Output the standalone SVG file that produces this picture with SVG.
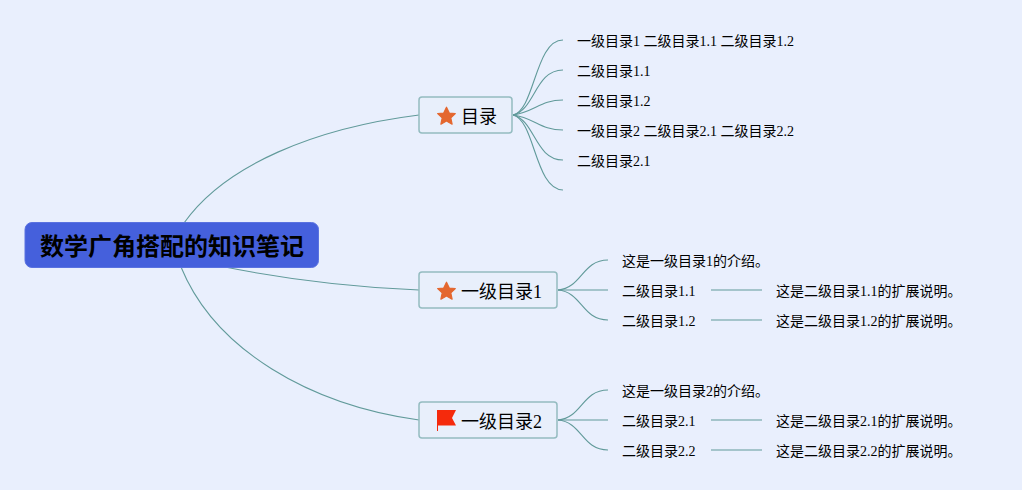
<svg xmlns="http://www.w3.org/2000/svg" width="1022" height="490" viewBox="0 0 1022 490">
<style>
text{font-family:"Liberation Serif","Noto Sans CJK SC",serif;fill:#000}
.l{font-size:14px}
.t{font-size:18px}
.b{fill:#e8effb;stroke:#94bcc0;stroke-width:1.5}
.c path{fill:none;stroke:#619a9a;stroke-width:1.1}
.s{fill:#e4672f;stroke:#e4672f;stroke-width:1.2;stroke-linejoin:round}
</style>
<defs>
<polygon id="star" class="s" points="0,-8.800 2.800,-2.900 8.800,-2.500 4.300,1.900 5.600,8.200 0,5 -5.600,8.200 -4.300,1.900 -8.800,-2.500 -2.800,-2.900"/>
</defs>
<rect width="1022" height="490" fill="#e9effd"/>
<g class="c" id="connectors">
<path d="M184 223C225 165 315 128 419 115"/>
<path d="M225 267C280 278 345 287 419 290"/>
<path d="M181 267C215 350 310 405 419 420"/>
<path d="M513 115C535 110 535 40 563 40"/>
<path d="M513 115C535 110 535 70 563 70"/>
<path d="M513 115C535 112 540 100 563 100"/>
<path d="M513 115C535 118 540 130 563 130"/>
<path d="M513 115C535 120 535 160 563 160"/>
<path d="M513 115C535 120 535 190 563 190"/>
<path d="M558 290C582 288 582 260 608 260"/>
<path d="M558 290H608"/>
<path d="M558 290C582 292 582 320 608 320"/>
<path d="M558 420C582 418 582 390 608 390"/>
<path d="M558 420H608"/>
<path d="M558 420C582 422 582 450 608 450"/>
<path d="M711 290H762"/>
<path d="M711 320H762"/>
<path d="M711 420H762"/>
<path d="M711 450H762"/>
</g>
<g id="root">
<rect x="25" y="222.500" width="293.500" height="45" rx="7" fill="#4560dc" stroke="#5a72e0"/>
<text x="172" y="255" text-anchor="middle" style="font-size:24px;font-weight:700">数学广角搭配的知识笔记</text>
</g>
<g id="n1">
<rect class="b" x="419" y="97" width="93" height="36" rx="3"/>
<use href="#star" x="446.500" y="116"/>
<text class="t" x="461" y="123">目录</text>
</g>
<g id="n2">
<rect class="b" x="419" y="272" width="138" height="36" rx="3"/>
<use href="#star" x="446.500" y="291"/>
<text class="t" x="461" y="298">一级目录1</text>
</g>
<g id="n3">
<rect class="b" x="419" y="402" width="138" height="36" rx="3"/>
<path d="M437 410H456L452 418L456 425.500H438V431H437Z" fill="#f52a0c"/>
<text class="t" x="461" y="428">一级目录2</text>
</g>
<g id="n1-1"><text class="l" x="577" y="46">一级目录1 二级目录1.1 二级目录1.2</text></g>
<g id="n1-2"><text class="l" x="577" y="76">二级目录1.1</text></g>
<g id="n1-3"><text class="l" x="577" y="106">二级目录1.2</text></g>
<g id="n1-4"><text class="l" x="577" y="136">一级目录2 二级目录2.1 二级目录2.2</text></g>
<g id="n1-5"><text class="l" x="577" y="166">二级目录2.1</text></g>
<g id="n2-1"><text class="l" x="622" y="266">这是一级目录1的介绍。</text></g>
<g id="n2-2"><text class="l" x="622" y="296">二级目录1.1</text></g>
<g id="n2-3"><text class="l" x="622" y="326">二级目录1.2</text></g>
<g id="n2-4"><text class="l" x="776" y="296">这是二级目录1.1的扩展说明。</text></g>
<g id="n2-5"><text class="l" x="776" y="326">这是二级目录1.2的扩展说明。</text></g>
<g id="n3-1"><text class="l" x="622" y="396">这是一级目录2的介绍。</text></g>
<g id="n3-2"><text class="l" x="622" y="426">二级目录2.1</text></g>
<g id="n3-3"><text class="l" x="622" y="456">二级目录2.2</text></g>
<g id="n3-4"><text class="l" x="776" y="426">这是二级目录2.1的扩展说明。</text></g>
<g id="n3-5"><text class="l" x="776" y="456">这是二级目录2.2的扩展说明。</text></g>
</svg>
